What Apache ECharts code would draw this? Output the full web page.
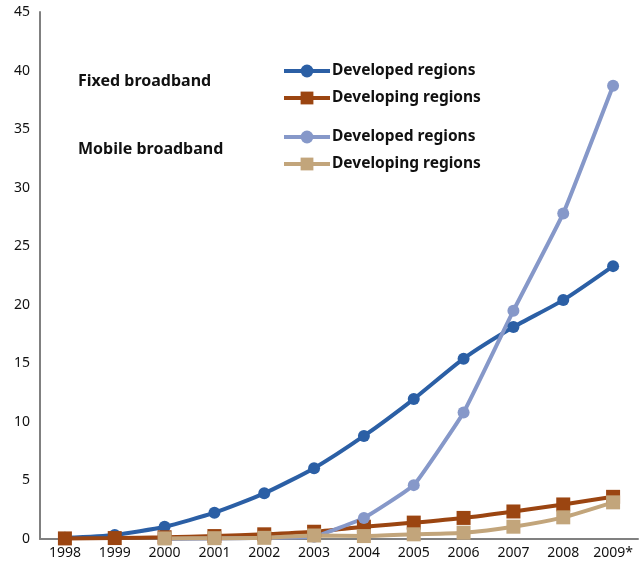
<!DOCTYPE html>
<html><head><meta charset="utf-8">
<script src="https://cdn.jsdelivr.net/npm/echarts@6/dist/echarts.min.js"></script>
<style>html,body{margin:0;padding:0;background:#fff}#c{width:639px;height:568px}</style>
</head><body><div id="c"></div>
<script>
const years = ['1998','1999','2000','2001','2002','2003','2004','2005','2006','2007','2008','2009*'];
const fixedDeveloped = [0.1, 0.35, 1.05, 2.25, 3.9, 6.05, 8.8, 11.95, 15.4, 18.1, 20.4, 23.3];
const fixedDeveloping = [0.05, 0.08, 0.15, 0.25, 0.4, 0.62, 1.05, 1.4, 1.8, 2.35, 2.95, 3.6];
const mobileDeveloped = [null, null, 0.0, 0.05, 0.1, 0.2, 1.8, 4.6, 10.8, 19.5, 27.8, 38.7];
const mobileDeveloping = [null, null, 0.05, 0.07, 0.1, 0.3, 0.25, 0.4, 0.54, 1.05, 1.85, 3.13];
const yTicks = [0, 5, 10, 15, 20, 25, 30, 35, 40, 45];

const FONT = 'Noto Sans';
const chart = echarts.init(document.getElementById('c'));
const legendText = {fontFamily: FONT, fontSize: 15.5, fontWeight: 'bold', color: '#111', padding: [0, 0, 0, -3]};
function strip(n){ return n.split('|')[1]; }
chart.setOption({
  animation: false,
  grid: {left: 40, right: 1, top: 12, bottom: 29},
  xAxis: {
    type: 'category', data: years, boundaryGap: true,
    axisLine: {lineStyle: {color: '#808080', width: 2}},
    axisTick: {show: false},
    axisLabel: {fontFamily: FONT, fontSize: 14, color: '#111', margin: 7, interval: 0}
  },
  yAxis: {
    type: 'value', min: 0, max: 45, interval: 5,
    axisLine: {show: true, lineStyle: {color: '#808080', width: 2}},
    axisTick: {show: false},
    splitLine: {show: false},
    axisLabel: {fontFamily: FONT, fontSize: 14, color: '#111', margin: 10}
  },
  legend: [
    {orient: 'vertical', left: 277, top: 58, itemWidth: 46, itemHeight: 16, itemGap: 11,
     lineStyle: {width: 4},
     data: ['F|Developed regions', 'F|Developing regions'], formatter: strip, textStyle: legendText},
    {orient: 'vertical', left: 277, top: 124, itemWidth: 46, itemHeight: 16, itemGap: 11,
     lineStyle: {width: 4},
     data: ['M|Developed regions', 'M|Developing regions'], formatter: strip, textStyle: legendText}
  ],
  graphic: [
    {type: 'text', left: 78, top: 73, style: {text: 'Fixed broadband', font: 'bold 16px "Noto Sans"', fill: '#111'}},
    {type: 'text', left: 78, top: 141, style: {text: 'Mobile broadband', font: 'bold 16px "Noto Sans"', fill: '#111'}}
  ],
  series: [
    {name: 'F|Developed regions', type: 'line', data: fixedDeveloped, smooth: 0.2,
     symbol: 'circle', symbolSize: 12, lineStyle: {width: 4, color: '#2b5fa5'}, itemStyle: {color: '#2b5fa5'}},
    {name: 'F|Developing regions', type: 'line', data: fixedDeveloping, smooth: 0.2,
     symbol: 'rect', symbolSize: 14, lineStyle: {width: 4, color: '#9b4511'}, itemStyle: {color: '#9b4511'}},
    {name: 'M|Developed regions', type: 'line', data: mobileDeveloped, smooth: 0.1,
     symbol: 'circle', symbolSize: 12, lineStyle: {width: 4, color: '#8698c9'}, itemStyle: {color: '#8698c9'}},
    {name: 'M|Developing regions', type: 'line', data: mobileDeveloping, smooth: 0.2,
     symbol: 'rect', symbolSize: 14, lineStyle: {width: 4, color: '#c2a57b'}, itemStyle: {color: '#c2a57b'}}
  ]
});
</script></body></html>
